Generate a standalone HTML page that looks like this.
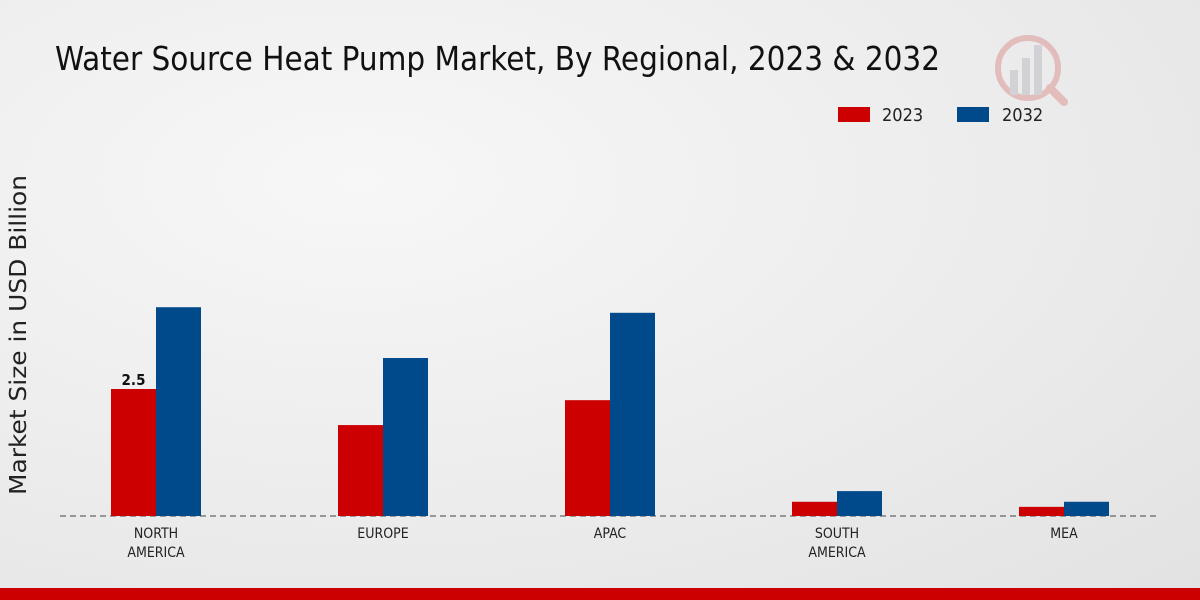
<!DOCTYPE html>
<html><head><meta charset="utf-8"><style>
body{margin:0;width:1200px;height:600px;overflow:hidden;font-family:"DejaVu Sans Condensed","Liberation Sans",sans-serif;}
#bg{position:absolute;left:0;top:0;width:1200px;height:600px;background:radial-gradient(ellipse at 30% 30%,#f7f7f7 0%,#ebebeb 60%,#e2e2e2 100%);}
</style></head><body>
<div id="bg"></div>
<svg id="c" width="1200" height="600" style="position:absolute;left:0;top:0">
<text x="55" y="70" font-size="33" fill="#111" font-family="DejaVu Sans Condensed, Liberation Sans, sans-serif" textLength="885" lengthAdjust="spacingAndGlyphs">Water Source Heat Pump Market, By Regional, 2023 &amp; 2032</text>
<text transform="translate(26,335) rotate(-90)" text-anchor="middle" font-size="23" fill="#222" font-family="DejaVu Sans, sans-serif" textLength="320" lengthAdjust="spacingAndGlyphs">Market Size in USD Billion</text>
<g>
<rect x="838" y="107" width="32" height="15" fill="#cc0000"/>
<text x="882" y="121" font-size="18" fill="#222">2023</text>
<rect x="957" y="107" width="32" height="15" fill="#004a8c"/>
<text x="1002" y="121" font-size="18" fill="#222">2032</text>
</g>
<g opacity="0.25">
<circle cx="1028" cy="68" r="30" fill="none" stroke="#c33" stroke-width="6"/>
<rect x="1010" y="70" width="8" height="25" fill="#889"/><rect x="1022" y="58" width="8" height="37" fill="#889"/><rect x="1034" y="45" width="8" height="50" fill="#889"/>
<line x1="1050" y1="88" x2="1064" y2="102" stroke="#c33" stroke-width="8" stroke-linecap="round"/>
</g>
<line x1="60" y1="516" x2="1160" y2="516" stroke="#444" stroke-dasharray="6,4"/>
<g id="bars"></g>
<rect x="0" y="588" width="1200" height="12" fill="#cc0000"/>
</svg>
<script>
const categories=[["NORTH","AMERICA"],["EUROPE"],["APAC"],["SOUTH","AMERICA"],["MEA"]];
const values2023=[2.5,1.79,2.28,0.28,0.18];
const values2032=[4.11,3.11,4.0,0.49,0.28];
const labels2023=["2.5","","","",""];
const base=516,scale=50.8,x0=156,step=227,bw=45;
const y=v=>base-v*scale;
const xc=i=>x0+i*step;
const g=document.getElementById('bars');
const ns='http://www.w3.org/2000/svg';
categories.forEach((cat,i)=>{
  const r=document.createElementNS(ns,'rect');
  r.setAttribute('x',xc(i)-bw);r.setAttribute('y',y(values2023[i]));r.setAttribute('width',bw);r.setAttribute('height',base-y(values2023[i]));r.setAttribute('fill','#cc0000');
  
  
  g.appendChild(r);
  const b=document.createElementNS(ns,'rect');
  b.setAttribute('x',xc(i));b.setAttribute('y',y(values2032[i]));b.setAttribute('width',bw);b.setAttribute('height',base-y(values2032[i]));b.setAttribute('fill','#004a8c');
  
  
  g.appendChild(b);
  if(labels2023[i]){
    const t=document.createElementNS(ns,'text');
    t.setAttribute('x',xc(i)-bw/2);t.setAttribute('y',y(values2023[i])-4);t.setAttribute('text-anchor','middle');t.setAttribute('font-size','15');t.setAttribute('font-weight','bold');t.setAttribute('fill','#111');
    t.textContent=labels2023[i];
    
    
    g.appendChild(t);
  }
  cat.forEach((line,j)=>{
    const t=document.createElementNS(ns,'text');
    t.setAttribute('x',xc(i));t.setAttribute('y',538+j*19);t.setAttribute('text-anchor','middle');t.setAttribute('font-size','14');t.setAttribute('fill','#222');
    t.textContent=line;
    
    
    g.appendChild(t);
  });
});
</script>
</body></html>
